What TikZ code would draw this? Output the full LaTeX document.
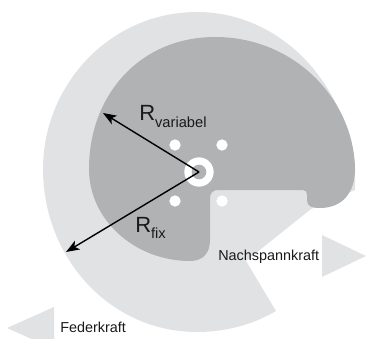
\documentclass[tikz,border=0pt]{standalone}
\usepackage{fontspec}
\setmainfont{Liberation Sans}
\usetikzlibrary{arrows.meta}
\definecolor{lightg}{RGB}{225,226,228}
\definecolor{darkg}{RGB}{177,178,180}
\tikzset{x=0.75pt,y=-0.75pt,
 radius arrow/.style={line width=1.05pt,-{Stealth[length=10pt,width=7.5pt,inset=2.5pt]}},
 hole/.style={circle,fill=white,inner sep=0pt,minimum size=8.5pt},
 lbl/.style={inner sep=0pt,text=black!90,font=\fontsize{10.8pt}{12pt}\selectfont},
 rlbl/.style={inner sep=0pt,text=black!90,font=\fontsize{16.5pt}{18pt}\selectfont},
}
\begin{document}
\begin{tikzpicture}
\useasboundingbox (0,0) rectangle (366,338);
% outer light shape
\fill[lightg] (276,311) .. controls (252,325) and (225,332) .. (197,332)
 .. controls (110,332) and (43,258) .. (43,169)
 .. controls (43,85) and (110,12) .. (197,12)
 .. controls (275,12) and (342,75) .. (355,165)
 -- (355,190) -- (311,209) -- (246,261) -- cycle;
% inner dark shape
\fill[darkg] (355,169) .. controls (354,100) and (295,37) .. (215,37)
 .. controls (140,37) and (89,95) .. (89,169)
 .. controls (89,220) and (135,261) .. (190,261)
 .. controls (204,261) and (210,252) .. (210,240)
 .. controls (210,225) and (210,215) .. (210,198)
 .. controls (210,193) and (213,190) .. (218,190)
 -- (303,190) .. controls (306,190) and (307,192) .. (307,195)
 -- (307,200) .. controls (307,206) and (311,208) .. (320,208)
 .. controls (342,208) and (355,193) .. (355,169) -- cycle;
% hub
\node[circle,fill=white,inner sep=0pt,minimum size=22pt] (hub) at (199,172) {};
\node[circle,fill=darkg,inner sep=0pt,minimum size=11pt] (bore) at (199,172) {};
\node[hole] (h1) at (175,145) {};
\node[hole] (h2) at (222,145) {};
\node[hole] (h3) at (175,201) {};
\node[hole] (h4) at (222,201) {};
% triangles
\fill[lightg] (322,235) -- (366,256) -- (322,277) -- cycle;
\fill[lightg] (54,307) -- (7,328) -- (54,349) -- cycle;
% arrows
\coordinate (c) at (199,172);
\coordinate (rv) at (103,113);
\coordinate (rf) at (66,252);
\draw[radius arrow] (c) -- (rv);
\draw[radius arrow] (c) -- (rf);
% labels
\node[rlbl,anchor=base west] (rvar) at (139,121) {R\raisebox{-5pt}{\fontsize{11pt}{12pt}\selectfont variabel}};
\node[rlbl,anchor=base west] (rfix) at (135,232) {R\raisebox{-5pt}{\fontsize{11pt}{12pt}\selectfont fix}};
\node[lbl,anchor=base west] (nach) at (218,260) {Nachspannkraft};
\node[lbl,anchor=base west] (feder) at (60,332) {Federkraft};
\end{tikzpicture}
\end{document}
